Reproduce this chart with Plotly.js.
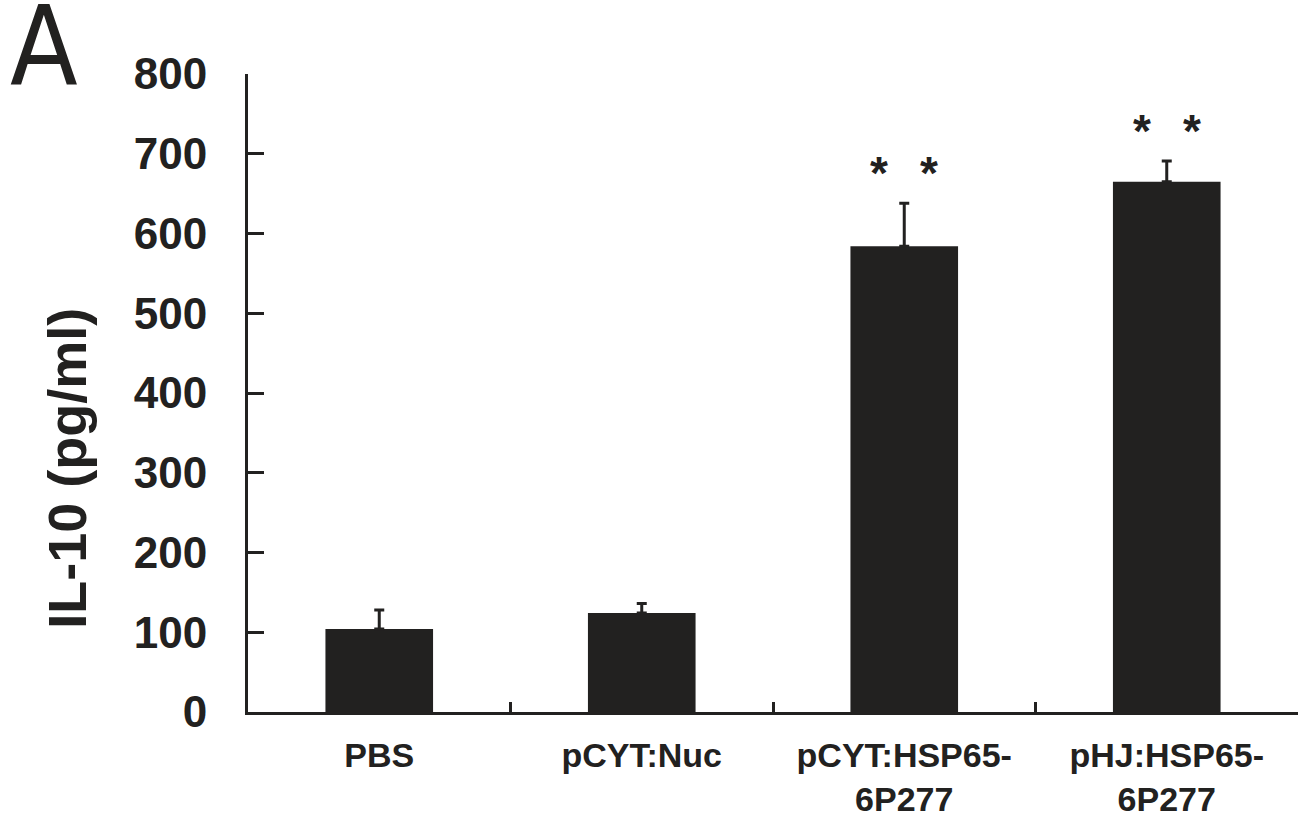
<!DOCTYPE html>
<html>
<head>
<meta charset="utf-8">
<script src="https://cdn.plot.ly/plotly-3.0.1.min.js"></script>
<style>
  html, body { margin: 0; padding: 0; background: #ffffff; }
  #chart { width: 1308px; height: 822px; }
</style>
</head>
<body>
<div id="chart"></div>
<script>
// ---- data ----
const categories = ['PBS', 'pCYT:Nuc', 'pCYT:HSP65-6P277', 'pHJ:HSP65-6P277'];
const tickLabels = ['PBS', 'pCYT:Nuc', 'pCYT:HSP65-<br>6P277', 'pHJ:HSP65-<br>6P277'];
const il10Values = [104, 124, 584, 665];
const il10Errors = [24, 12, 54, 26];
const significant = [false, false, true, true];
const yTickValues = [0, 100, 200, 300, 400, 500, 600, 700, 800];

const ink = '#222120';
const fontFamily = 'Liberation Sans, Arial, Helvetica, sans-serif';

const trace = {
  type: 'bar',
  x: categories,
  y: il10Values,
  marker: { color: ink, line: { width: 0 } },
  error_y: {
    type: 'data',
    symmetric: false,
    array: il10Errors,
    arrayminus: il10Errors.map(() => 0),
    color: ink,
    thickness: 3,
    width: 5,
    visible: true
  },
  hoverinfo: 'x+y'
};

const annotations = [];
categories.forEach((c, i) => {
  if (!significant[i]) return;
  [-25, 25].forEach(dx => {
    annotations.push({
      x: c, y: il10Values[i] + il10Errors[i],
      xref: 'x', yref: 'y',
      text: '*', showarrow: false,
      xanchor: 'center', yanchor: 'middle',
      xshift: dx, yshift: 30,
      font: { family: fontFamily, size: 46, color: ink, weight: 'bold' }
    });
  });
});

// y-axis title
annotations.push({
  xref: 'paper', yref: 'paper',
  x: -0.172, y: 0.382,
  text: '<b>IL-10 (pg/ml)</b>', textangle: -90, showarrow: false,
  xanchor: 'center', yanchor: 'middle',
  font: { family: fontFamily, size: 54, color: ink }
});

// panel letter
annotations.push({
  xref: 'paper', yref: 'paper',
  x: -0.229, y: 1.145,
  text: 'A', showarrow: false,
  xanchor: 'left', yanchor: 'top',
  font: { family: 'Liberation Sans Narrow, DejaVu Sans Condensed, sans-serif', size: 110, color: ink }
});

const layout = {
  width: 1308,
  height: 822,
  margin: { l: 248, r: 10, t: 74, b: 110 },
  paper_bgcolor: '#ffffff',
  plot_bgcolor: '#ffffff',
  showlegend: false,
  bargap: 0.59,
  xaxis: {
    type: 'category',
    tickmode: 'array',
    tickvals: categories,
    ticktext: tickLabels,
    range: [-0.5, 3.5],
    tickson: 'boundaries',
    ticks: 'inside',
    ticklen: 10,
    tickwidth: 3,
    tickcolor: ink,
    showline: true,
    linecolor: ink,
    linewidth: 3,
    showgrid: false,
    zeroline: false,
    ticklabelstandoff: 11,
    tickfont: { family: fontFamily, size: 34, color: ink, weight: 'bold' },
    fixedrange: true
  },
  yaxis: {
    range: [0, 800],
    tickmode: 'array',
    tickvals: yTickValues,
    ticktext: yTickValues.map(v => String(v)),
    ticks: 'inside',
    ticklen: 16,
    tickwidth: 3,
    tickcolor: ink,
    showline: true,
    linecolor: ink,
    linewidth: 3,
    showgrid: false,
    zeroline: false,
    ticklabelstandoff: 29,
    tickfont: { family: fontFamily, size: 44, color: ink, weight: 'bold' },
    fixedrange: true
  },
  annotations: annotations
};

Plotly.newPlot('chart', [trace], layout, { displayModeBar: false, staticPlot: true });
</script>
</body>
</html>
